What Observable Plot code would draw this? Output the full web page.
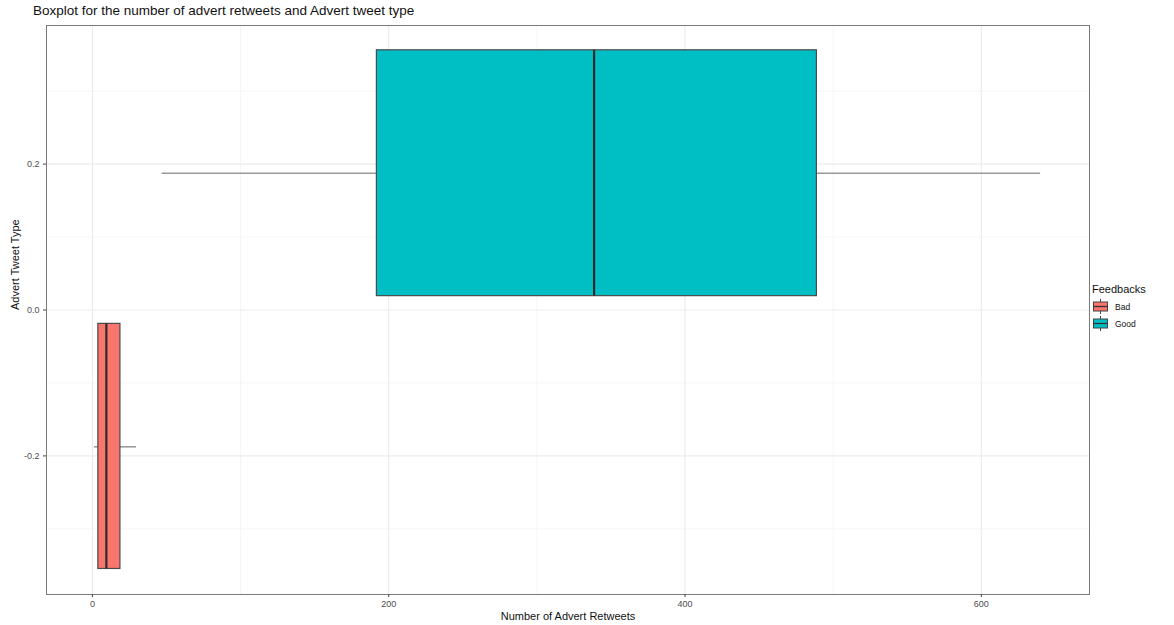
<!DOCTYPE html>
<html>
<head>
<meta charset="utf-8">
<script src="https://cdn.jsdelivr.net/npm/d3@7"></script>
<script src="https://cdn.jsdelivr.net/npm/@observablehq/plot@0.6"></script>
<style>
  html, body { margin: 0; padding: 0; background: #fff; }
  body { width: 1174px; height: 625px; position: relative; overflow: hidden; font-family: "Liberation Sans", Arial, sans-serif; }
  #title { position: absolute; left: 33px; top: 3px; font-size: 13.5px; color: #111; }
  #chart { position: absolute; left: 0; top: 22px; }
  #legend { position: absolute; left: 1092px; top: 283px; font-size: 11px; color: #111; }
  #legend .item { display: flex; align-items: center; height: 17px; font-size: 8.5px; }
  #legend .item svg { margin-right: 6px; }
</style>
</head>
<body>
<div id="title">Boxplot for the number of advert retweets and Advert tweet type</div>
<div id="chart"></div>
<div id="legend"></div>
<script>
// Data
const feedbacks = ["Bad", "Good"];
const colors = ["#F8766D", "#00BFC4"];
const whiskerLow = [1.3, 47];
const q1 = [4, 192];
const median = [9.4, 338.6];
const q3 = [18.9, 489];
const whiskerHigh = [29.7, 640];
const yCenter = [-0.1875, 0.1875];
const yLow = [-0.355, 0.019];
const yHigh = [-0.019, 0.356];
const xTicks = [0, 200, 400, 600];
const xMinor = [100, 300, 500];
const yTicks = [-0.2, 0.0, 0.2];
const yMinor = [-0.3, -0.1, 0.1, 0.3];

const boxes = feedbacks.map((f, i) => ({
  f, lo: whiskerLow[i], q1: q1[i], med: median[i], q3: q3[i], hi: whiskerHigh[i],
  y: yCenter[i], y1: yLow[i], y2: yHigh[i]
}));

const plot = Plot.plot({
  width: 1174,
  height: 603,
  marginLeft: 46,
  marginRight: 85,
  marginTop: 3,
  marginBottom: 31,
  style: { fontFamily: "Liberation Sans, Arial, sans-serif", background: "#fff" },
  x: { domain: [-31, 673] },
  y: { domain: [-0.39, 0.39] },
  color: { domain: feedbacks, range: colors },
  marks: [
    Plot.ruleX(xMinor, { stroke: "#f3f3f3", strokeWidth: 0.8 }),
    Plot.ruleY(yMinor, { stroke: "#f3f3f3", strokeWidth: 0.8 }),
    Plot.ruleX(xTicks, { stroke: "#ebebeb", strokeWidth: 1.1 }),
    Plot.ruleY(yTicks, { stroke: "#ebebeb", strokeWidth: 1.1 }),
    Plot.ruleY(boxes, { y: "y", x1: "lo", x2: "q1", stroke: "#999", strokeWidth: 1.6 }),
    Plot.ruleY(boxes, { y: "y", x1: "q3", x2: "hi", stroke: "#999", strokeWidth: 1.6 }),
    Plot.rect(boxes, { x1: "q1", x2: "q3", y1: "y1", y2: "y2", fill: "f", stroke: "#4a4a4a", strokeWidth: 1.2 }),
    Plot.ruleX(boxes, { x: "med", y1: "y1", y2: "y2", stroke: "#2b2b2b", strokeWidth: 2.2 }),
    Plot.frame({ stroke: "#7a7a7a", strokeWidth: 1 }),
    Plot.axisX(xTicks, {
      tickSize: 3, tickPadding: 3, stroke: "#444", fontSize: 9, color: "#4d4d4d",
      label: "Number of Advert Retweets", labelAnchor: "center", labelArrow: "none",
      labelOffset: 25
    }),
    Plot.axisY(yTicks, {
      tickSize: 3, tickPadding: 4, stroke: "#444", fontSize: 9, color: "#4d4d4d",
      tickFormat: d => d.toFixed(1),
      label: null
    }),
    Plot.text(["Advert Tweet Type"], {
      frameAnchor: "left", dx: -31, rotate: -90, fontSize: 11, fill: "#111"
    })
  ]
});
plot.querySelectorAll("g[aria-label='x-axis label'] text").forEach(t => { t.setAttribute("font-size", "11"); t.setAttribute("fill", "#111"); });
document.getElementById("chart").appendChild(plot);

// Legend
const legend = document.getElementById("legend");
const head = document.createElement("div");
head.textContent = "Feedbacks";
head.style.marginBottom = "3px";
legend.appendChild(head);
feedbacks.forEach((f, i) => {
  const item = document.createElement("div");
  item.className = "item";
  item.innerHTML = `<svg width="17" height="17" viewBox="0 0 17 17">
    <line x1="8.5" y1="1" x2="8.5" y2="16" stroke="#444" stroke-width="1"/>
    <rect x="1.5" y="4" width="14" height="9" fill="${colors[i]}" stroke="#444" stroke-width="1"/>
    <line x1="1.5" y1="8.5" x2="15.5" y2="8.5" stroke="#333" stroke-width="1.3"/>
  </svg><span>${f}</span>`;
  legend.appendChild(item);
});
</script>
</body>
</html>
